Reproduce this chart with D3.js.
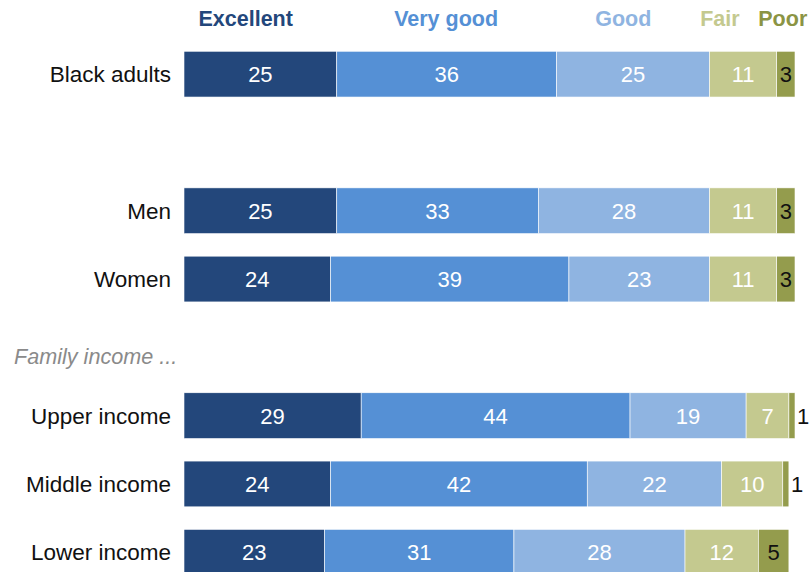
<!DOCTYPE html>
<html>
<head>
<meta charset="utf-8">
<script src="https://cdn.jsdelivr.net/npm/d3@7"></script>
<style>
  body { margin: 0; background: #fff; }
  text { font-family: "Liberation Sans", Arial, sans-serif; }
</style>
</head>
<body>
<div id="chart"></div>
<script>
// ratings, left to right
const ratings = ["Excellent", "Very good", "Good", "Fair", "Poor"];
const ratingColors = ["#23477b", "#5590d5", "#8fb4e1", "#c4c98f", "#949c4d"];
const legendColors = ["#23477b", "#5590d5", "#8fb4e1", "#c4c98f", "#8b9444"];

// rows (blank strings are spacer rows)
const groups = ["Black adults", "", "Men", "Women", "Family income ...", "Upper income", "Middle income", "Lower income"];

const excellent = [25, null, 25, 24, null, 29, 24, 23];
const veryGood  = [36, null, 33, 39, null, 44, 42, 31];
const good      = [25, null, 28, 23, null, 19, 22, 28];
const fair      = [11, null, 11, 11, null, 7, 10, 12];
const poor      = [3,  null, 3,  3,  null, 1, 1, 5];

const W = 811, H = 572;
const margin = {top: 40, left: 184, right: 16};

const svg = d3.select("#chart").append("svg")
  .attr("width", W).attr("height", H);

const x = d3.scaleLinear().domain([0, 100]).range([margin.left, 795]);
const y = d3.scaleBand().domain(d3.range(groups.length))
  .range([margin.top, margin.top + 68.3 * groups.length])
  .paddingInner(0.33).paddingOuter(0.165);

const series = [excellent, veryGood, good, fair, poor];

// legend header, positioned roughly over the columns
const legendAt = [10.1, 42.9, 71.9, 87.7, 98.0];
svg.selectAll(".legend")
  .data(ratings)
  .join("text")
    .attr("x", (d, i) => x(legendAt[i]))
    .attr("y", 26)
    .attr("text-anchor", "middle")
    .style("font-size", "21.5px")
    .style("font-weight", "bold")
    .style("fill", (d, i) => legendColors[i])
    .text(d => d);

groups.forEach((g, r) => {
  const cy = y(r) + y.bandwidth() / 2;
  if (g === "Family income ...") {
    svg.append("text")
      .attr("x", 14).attr("y", cy + 17)
      .style("font-size", "21.6px")
      .style("font-style", "italic")
      .style("fill", "#8a8a8a")
      .text(g);
    return;
  }
  if (g === "") return;

  svg.append("text")
    .attr("x", 171).attr("y", cy)
    .attr("dy", "0.36em")
    .attr("text-anchor", "end")
    .style("font-size", "22.5px")
    .style("fill", "#111")
    .text(g);

  let acc = 0;
  series.forEach((s, k) => {
    const v = s[r];
    const x0 = x(acc), x1 = x(acc + v);
    acc += v;
    svg.append("rect")
      .attr("x", x0).attr("y", y(r))
      .attr("width", x1 - x0).attr("height", y.bandwidth())
      .attr("fill", ratingColors[k])
      .attr("stroke", "#fff").attr("stroke-width", 0.6);
    const outside = v < 2;
    svg.append("text")
      .attr("x", outside ? x1 + 2 : (x0 + x1) / 2)
      .attr("y", cy)
      .attr("dy", "0.36em")
      .attr("text-anchor", outside ? "start" : "middle")
      .style("font-size", "22px")
      .style("fill", k === 4 ? "#111" : "#fff")
      .text(v);
  });
});
</script>
</body>
</html>
